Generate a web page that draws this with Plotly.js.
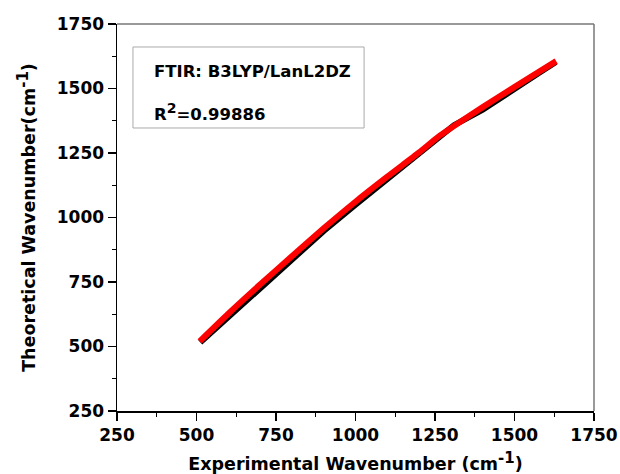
<!DOCTYPE html>
<html>
<head>
<meta charset="utf-8">
<script src="https://cdn.plot.ly/plotly-3.0.1.min.js"></script>
<style>
  html, body { margin: 0; padding: 0; background: #fff; }
  #chart { width: 620px; height: 474px; }
</style>
</head>
<body>
<div id="chart"></div>
<script>
// Experimental vs. theoretical (B3LYP/LanL2DZ) vibrational wavenumbers, cm^-1
const expBlack = [512, 600, 700, 800, 900, 1000, 1100, 1200, 1250, 1310, 1400, 1500, 1580, 1630];
const theoBlack = [516, 615, 727, 836, 948, 1050, 1148, 1245, 1295, 1358, 1418, 1495, 1563, 1603];

const expRed = [510, 600, 700, 800, 900, 1000, 1100, 1200, 1266, 1350, 1450, 1550, 1631];
const theoRed = [520, 627, 740, 850, 958, 1061, 1158, 1252, 1318, 1388, 1467, 1544, 1606];

const tickVals = [250, 500, 750, 1000, 1250, 1500, 1750];
const tickText = ['250', '500', '750', '1000', '1250', '1500', '1750'];

const fitLabel = 'FTIR: B3LYP/LanL2DZ';
const r2Label = 'R<sup><span style="font-size:14px">2</span></sup>=0.99886';
const xTitle = 'Experimental Wavenumber (cm<sup><span style="font-size:15px">-1</span></sup>)';
const yTitle = 'Theoretical Wavenumber(cm<sup><span style="font-size:15px">-1</span></sup>)';

const FONT = 'DejaVu Sans, Arial, sans-serif';

const traces = [
  { x: expBlack, y: theoBlack, mode: 'lines', type: 'scatter',
    line: { color: '#000000', width: 6 }, showlegend: false, hoverinfo: 'x+y' },
  { x: expRed, y: theoRed, mode: 'lines', type: 'scatter',
    line: { color: '#ff0000', width: 6, shape: 'spline', smoothing: 0.6 }, showlegend: false, hoverinfo: 'x+y' }
];

const axisCommon = {
  range: [250, 1750],
  tickmode: 'array',
  tickvals: tickVals,
  ticktext: tickText.map(t => '<b>' + t + '</b>'),
  ticks: 'outside',
  ticklen: 8,
  tickwidth: 1.2,
  tickcolor: '#000',
  showline: true,
  linecolor: '#000',
  linewidth: 1.5,
  showgrid: false,
  zeroline: false,
  tickfont: { family: FONT, size: 17, color: '#000' },
  minor: { dtick: 125, ticks: 'outside', ticklen: 4, tickwidth: 1, tickcolor: '#000', showgrid: false }
};

const layout = {
  width: 620,
  height: 474,
  margin: { l: 117, r: 26, t: 24, b: 63 },
  paper_bgcolor: '#fff',
  plot_bgcolor: '#fff',
  font: { family: FONT, color: '#000' },
  xaxis: Object.assign({}, axisCommon, {
    title: { text: '<b>' + xTitle + '</b>',
             font: { family: FONT, size: 17.5, color: '#000' }, standoff: 14 }
  }),
  yaxis: Object.assign({}, axisCommon, {
    title: { text: '<b>' + yTitle + '</b>',
             font: { family: FONT, size: 17.5, color: '#000' }, standoff: 16 }
  }),
  shapes: [
    // frame: top and right edges in grey
    { type: 'line', xref: 'paper', yref: 'paper', x0: 0, x1: 1, y0: 1, y1: 1,
      line: { color: '#777', width: 1.5 } },
    { type: 'line', xref: 'paper', yref: 'paper', x0: 1, x1: 1, y0: 0, y1: 1,
      line: { color: '#777', width: 1.5 } },
    // box around the fit statistics
    { type: 'rect', xref: 'paper', yref: 'paper', x0: 0.0335, x1: 0.518, y0: 0.7313, y1: 0.9406,
      line: { color: '#aaa', width: 1 }, fillcolor: 'rgba(0,0,0,0)' }
  ],
  annotations: [
    { xref: 'paper', yref: 'paper', x: 0.0734, y: 0.876, xanchor: 'left', yanchor: 'middle',
      text: '<b>' + fitLabel + '</b>', showarrow: false,
      font: { family: FONT, size: 16.5, color: '#000' } },
    { xref: 'paper', yref: 'paper', x: 0.0734, y: 0.772, xanchor: 'left', yanchor: 'middle',
      text: '<b>' + r2Label + '</b>', showarrow: false,
      font: { family: FONT, size: 16.5, color: '#000' } }
  ]
};

Plotly.newPlot('chart', traces, layout, { displayModeBar: false, staticPlot: true });
</script>
</body>
</html>
